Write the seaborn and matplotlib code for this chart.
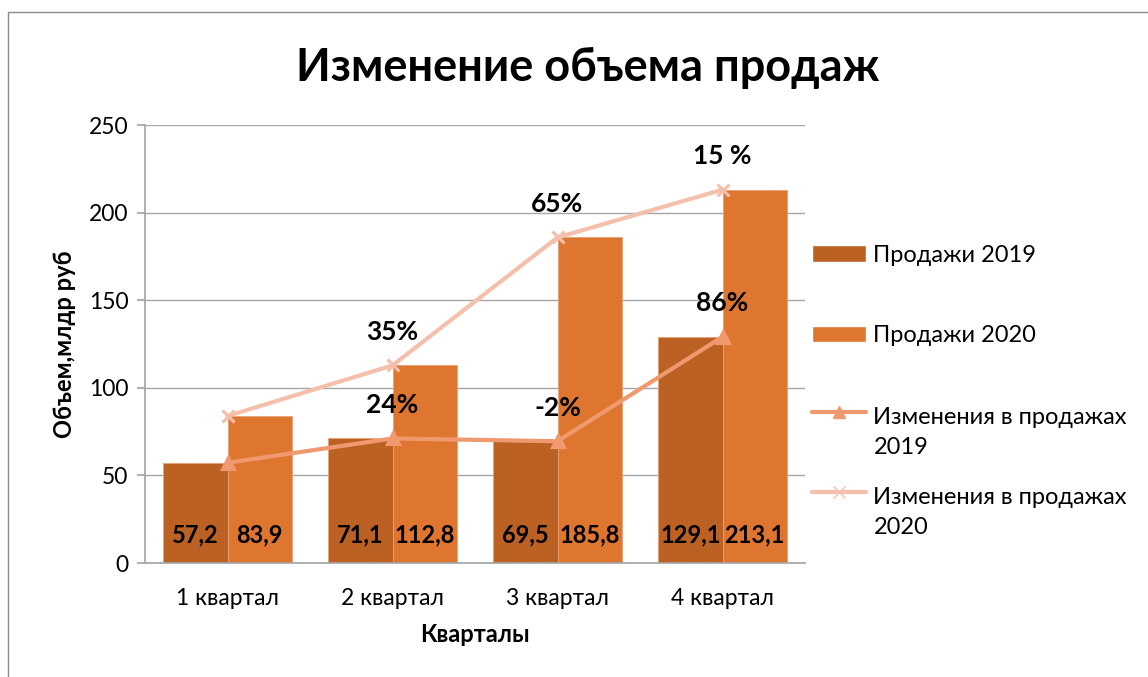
import matplotlib
matplotlib.use('Agg')
import matplotlib.pyplot as plt
from matplotlib.lines import Line2D
from matplotlib.patches import Patch
from matplotlib.legend_handler import HandlerLine2D
import numpy as np
import pandas as pd
import seaborn as sns

# data
quarters = ['1 квартал', '2 квартал', '3 квартал', '4 квартал']
sales_2019 = [57.2, 71.1, 69.5, 129.1]
sales_2020 = [83.9, 112.8, 185.8, 213.1]
change_2019 = ['', '24%', '-2%', '86%']
change_2020 = ['', '35%', '65%', '15 %']

c2019 = '#BA6123'
c2020 = '#DF7630'
line19 = '#F0996F'
line20 = '#F5C0AB'


class HandlerFirstLine(HandlerLine2D):
    # put the line handle next to the first line of a two-line label
    def create_artists(self, legend, orig, xd, yd, w, h, fs, trans):
        arts = super().create_artists(legend, orig, xd, yd, w, h, fs, trans)
        for a in arts:
            a.set_ydata(np.asarray(a.get_ydata()) + 15)
        return arts


sns.set_theme(style='white')
plt.rcParams['font.family'] = ['Lato', 'DejaVu Sans']
plt.rcParams['text.color'] = 'black'
plt.rcParams['axes.labelcolor'] = 'black'
plt.rcParams['xtick.color'] = 'black'
plt.rcParams['ytick.color'] = 'black'

df = pd.DataFrame({
    'quarter': quarters * 2,
    'value': sales_2019 + sales_2020,
    'year': ['Продажи 2019'] * 4 + ['Продажи 2020'] * 4,
})

fig = plt.figure(figsize=(11.48, 6.77), dpi=100)
ax = fig.add_axes([145 / 1148, 1 - 563 / 677, 660 / 1148, 438 / 677])

sns.barplot(data=df, x='quarter', y='value', hue='year', order=quarters,
            palette=[c2019, c2020], saturation=1, width=0.78, gap=0, ax=ax, legend=False,
            edgecolor='#E9A274', linewidth=0.6, zorder=2)

sns.pointplot(x=quarters, y=sales_2019, color=line19, markers='^', markersize=9,
              linewidth=3, ax=ax, zorder=3)
sns.pointplot(x=quarters, y=sales_2020, color=line20, markers='x', markersize=9,
              linewidth=3, ax=ax, zorder=3)

# values inside bars
for cont, vals in zip(ax.containers[:2], [sales_2019, sales_2020]):
    for rect, v in zip(cont, vals):
        ax.text(rect.get_x() + rect.get_width() / 2, 16, f'{v:.1f}'.replace('.', ','),
                ha='center', va='center', fontsize=17, fontweight='bold', color='black', zorder=4)

# change labels above line points
for vals, labs in [(sales_2019, change_2019), (sales_2020, change_2020)]:
    for x, (v, lab) in enumerate(zip(vals, labs)):
        if lab:
            ax.annotate(lab, (x, v), xytext=(0, 24), textcoords='offset points',
                        ha='center', va='center', fontsize=19, fontweight='bold', zorder=5)

ax.set_ylim(0, 250)
ax.set_xlim(-0.5, 3.5)
ax.set_yticks(np.arange(0, 251, 50))
ax.yaxis.grid(True, color='#A6A6A6', linewidth=1)
ax.set_axisbelow(True)
for s in ['top', 'right']:
    ax.spines[s].set_visible(False)
for s in ['left', 'bottom']:
    ax.spines[s].set_color('#A6A6A6')
ax.tick_params(axis='y', left=True, length=6, color='#A6A6A6', labelcolor='black', labelsize=16.5, pad=6)
ax.tick_params(axis='x', bottom=False, labelcolor='black', labelsize=16.5, pad=12)
ax.set_xlabel('Кварталы', fontsize=17, fontweight='bold', labelpad=10)
ax.set_ylabel('Объем,млдр руб', fontsize=17, fontweight='bold', labelpad=9)

fig.text(0.512, 1 - 68 / 677, 'Изменение объема продаж', ha='center', va='center',
         fontsize=32.5, fontweight='bold')

bar_handles = [Patch(facecolor=c2019), Patch(facecolor=c2020)]
line_handles = [
    Line2D([0], [0], color=line19, lw=3, marker='^', markersize=9),
    Line2D([0], [0], color=line20, lw=3, marker='x', markersize=9),
]
leg1 = fig.legend(bar_handles, ['Продажи 2019', 'Продажи 2020'], loc='upper left',
                  bbox_to_anchor=(812 / 1148, 1 - 245 / 677), frameon=False, fontsize=17,
                  labelspacing=2.5, handlelength=2.3, handletextpad=0.3,
                  borderpad=0, borderaxespad=0)
leg2 = fig.legend(line_handles, ['Изменения в продажах\n2019', 'Изменения в продажах\n2020'],
                  loc='upper left', bbox_to_anchor=(812 / 1148, 1 - 407 / 677), frameon=False,
                  fontsize=17, labelspacing=1.2, handlelength=2.3, handletextpad=0.3,
                  borderpad=0, borderaxespad=0, handler_map={Line2D: HandlerFirstLine()})
for t in leg2.get_texts():
    t.set_linespacing(1.55)

# outer frame
fig.add_artist(Line2D([8 / 1148, 1], [1 - 12 / 677] * 2, transform=fig.transFigure, color='#8C8C8C', lw=1))
fig.add_artist(Line2D([8 / 1148] * 2, [0, 1 - 12 / 677], transform=fig.transFigure, color='#8C8C8C', lw=1))

fig.savefig('out.png', dpi=100)
